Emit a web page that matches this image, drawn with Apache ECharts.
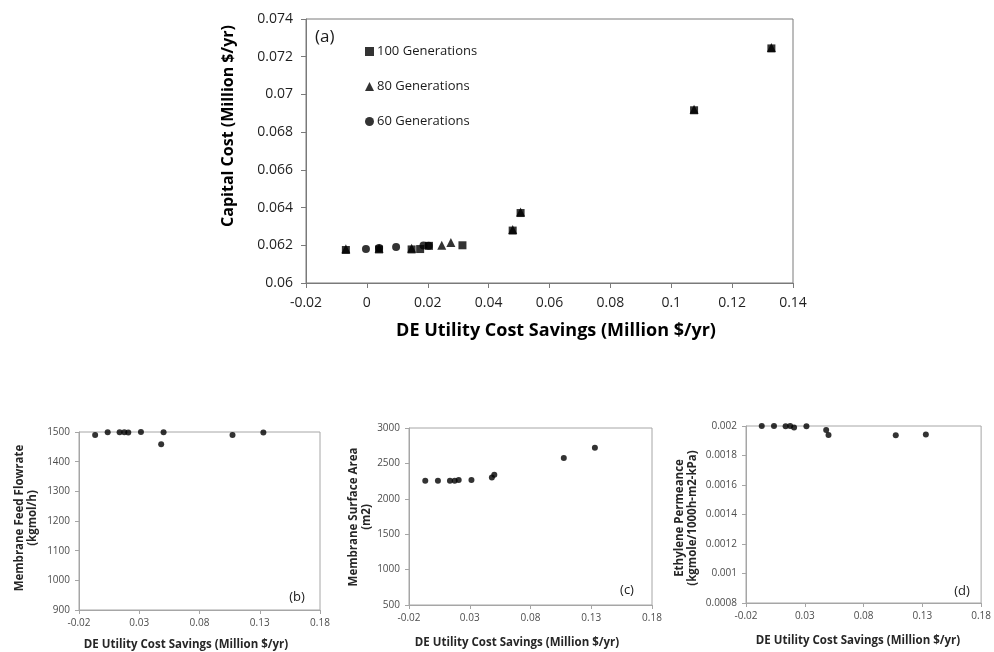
<!DOCTYPE html>
<html>
<head>
<meta charset="utf-8">
<script src="https://cdn.jsdelivr.net/npm/echarts@6/dist/echarts.min.js"></script>
<style>
html,body{margin:0;padding:0;background:#fff;}
#c{width:994px;height:652px;}
</style>
</head>
<body>
<div id="c"></div>
<script>
// ---- data ----
// Panel (a): Capital cost vs DE utility cost savings (Million $/yr)
var savings100 = [-0.0069, 0.004, 0.0147, 0.0175, 0.0204, 0.0314, 0.0479, 0.0505, 0.1075, 0.1329];
var capital100 = [0.06175, 0.06178, 0.06178, 0.0618, 0.06197, 0.062, 0.06278, 0.06371, 0.06916, 0.07244];
var savings80 = [-0.0069, 0.004, 0.0147, 0.0246, 0.0276, 0.0479, 0.0505, 0.1075, 0.1329];
var capital80 = [0.06182, 0.06184, 0.06184, 0.06200, 0.06215, 0.06284, 0.06376, 0.06921, 0.07249];
var savings60 = [-0.0003, 0.004, 0.0096, 0.0186, 0.0203];
var capital60 = [0.0618, 0.06186, 0.06191, 0.06199, 0.06197];
// Panels (b)-(d): decision variables of the 100-generation front
var savingsSmall = [-0.0066, 0.0038, 0.0137, 0.0176, 0.0209, 0.0314, 0.0482, 0.0502, 0.1074, 0.133];
var feedFlow = [1490, 1499, 1499, 1499, 1498, 1500, 1459, 1499, 1490, 1498];
var surfaceArea = [2255, 2255, 2255, 2255, 2264, 2264, 2302, 2340, 2575, 2722];
var permeance = [0.002, 0.002, 0.001998, 0.002, 0.00199, 0.001998, 0.001973, 0.001939, 0.001937, 0.001943];

// tick labels
var xTicksA = [-0.02, 0, 0.02, 0.04, 0.06, 0.08, 0.1, 0.12, 0.14];
var yTicksA = [0.06, 0.062, 0.064, 0.066, 0.068, 0.07, 0.072, 0.074];
var xTicksSmall = [-0.02, 0.03, 0.08, 0.13, 0.18];
var yTicksB = [900, 1000, 1100, 1200, 1300, 1400, 1500];
var yTicksC = [500, 1000, 1500, 2000, 2500, 3000];
var yTicksD = [0.0008, 0.001, 0.0012, 0.0014, 0.0016, 0.0018, 0.002];

var legendNames = ['100 Generations', '80 Generations', '60 Generations'];
var xTitle = 'DE Utility Cost Savings (Million $/yr)';

function pairs(xs, ys) { return xs.map(function (x, i) { return [x, ys[i]]; }); }

var FONT = '"Open Sans", sans-serif';

function valAxis(idx, ticks, opts) {
  var min = ticks[0], max = ticks[ticks.length - 1];
  return {
    type: 'value', gridIndex: idx, min: min, max: max,
    splitLine: { show: false },
    axisLine: { show: true, onZero: false, lineStyle: { color: opts.lineColor, width: 1 } },
    axisTick: { show: true, inside: false, length: opts.tickLen, customValues: ticks, lineStyle: { color: opts.lineColor } },
    axisLabel: { customValues: ticks, margin: opts.margin, color: opts.labelColor, fontSize: opts.fontSize, fontFamily: FONT,
      formatter: function (v) { return String(v); } }
  };
}

var mainOpt = { lineColor: '#7a7a7a', tickLen: 5, margin: 13, labelColor: '#1f1f1f', fontSize: 14 };
var smallOptX = { lineColor: '#a6a6a6', tickLen: 4, margin: 8, labelColor: '#4d4d4d', fontSize: 10 };
var smallOptY = { lineColor: '#a6a6a6', tickLen: 4, margin: 9, labelColor: '#4d4d4d', fontSize: 10 };

var chart = echarts.init(document.getElementById('c'), null, { renderer: 'canvas' });

var option = {
  animation: false,
  backgroundColor: '#ffffff',
  grid: [
    { left: 306, top: 19, width: 487, height: 264, show: true, borderColor: '#7a7a7a', borderWidth: 1, backgroundColor: 'transparent' },
    { left: 79, top: 432, width: 241, height: 178, show: true, borderColor: '#a6a6a6', borderWidth: 1, backgroundColor: 'transparent' },
    { left: 409, top: 428, width: 243, height: 177, show: true, borderColor: '#a6a6a6', borderWidth: 1, backgroundColor: 'transparent' },
    { left: 746, top: 426, width: 237, height: 177, show: true, borderColor: '#a6a6a6', borderWidth: 1, backgroundColor: 'transparent' }
  ],
  xAxis: [
    valAxis(0, xTicksA, mainOpt),
    valAxis(1, xTicksSmall, smallOptX),
    valAxis(2, xTicksSmall, smallOptX),
    valAxis(3, xTicksSmall, smallOptX)
  ],
  yAxis: [
    valAxis(0, yTicksA, mainOpt),
    valAxis(1, yTicksB, smallOptY),
    valAxis(2, yTicksC, smallOptY),
    valAxis(3, yTicksD, smallOptY)
  ],
  legend: {
    data: [
      { name: legendNames[0], icon: 'rect' },
      { name: legendNames[1], icon: 'triangle' },
      { name: legendNames[2], icon: 'circle' }
    ],
    orient: 'vertical', left: 360, top: 40,
    itemWidth: 9, itemHeight: 9, itemGap: 22,
    textStyle: { fontSize: 13, fontFamily: FONT, color: '#1a1a1a', padding: [0, 0, 0, -2] },
    selectedMode: false
  },
  series: [
    { name: legendNames[0], type: 'scatter', xAxisIndex: 0, yAxisIndex: 0, symbol: 'rect', symbolSize: 8, z: 4,
      itemStyle: { color: '#000' }, data: pairs(savings100, capital100) },
    { name: legendNames[1], type: 'scatter', xAxisIndex: 0, yAxisIndex: 0, symbol: 'triangle', symbolSize: 9, z: 3,
      itemStyle: { color: '#000' }, data: pairs(savings80, capital80) },
    { name: legendNames[2], type: 'scatter', xAxisIndex: 0, yAxisIndex: 0, symbol: 'circle', symbolSize: 8, z: 2,
      itemStyle: { color: '#000' }, data: pairs(savings60, capital60) },
    { name: 'feed', type: 'scatter', xAxisIndex: 1, yAxisIndex: 1, symbol: 'circle', symbolSize: 6,
      itemStyle: { color: '#000' }, data: pairs(savingsSmall, feedFlow) },
    { name: 'area', type: 'scatter', xAxisIndex: 2, yAxisIndex: 2, symbol: 'circle', symbolSize: 6,
      itemStyle: { color: '#000' }, data: pairs(savingsSmall, surfaceArea) },
    { name: 'perm', type: 'scatter', xAxisIndex: 3, yAxisIndex: 3, symbol: 'circle', symbolSize: 6,
      itemStyle: { color: '#000' }, data: pairs(savingsSmall, permeance) }
  ],
  graphic: [
    // panel (a)
    { type: 'text', left: 315, top: 29, style: { text: '(a)', fontSize: 17, fontFamily: FONT, fill: '#1a1a1a' } },
    { type: 'text', x: 228, y: 126, rotation: Math.PI / 2,
      style: { text: 'Capital Cost (Million $/yr)', fontSize: 16, fontWeight: 'bold', fontFamily: FONT, fill: '#000', align: 'center', verticalAlign: 'middle' } },
    { type: 'text', x: 556, y: 331,
      style: { text: xTitle, fontSize: 18, fontWeight: 'bold', fontFamily: FONT, fill: '#000', align: 'center', verticalAlign: 'middle' } },
    // panel (b)
    { type: 'text', x: 297, y: 597, style: { text: '(b)', fontSize: 13, fontFamily: FONT, fill: '#1a1a1a', align: 'center', verticalAlign: 'middle' } },
    { type: 'text', x: 26, y: 518, rotation: Math.PI / 2,
      style: { text: 'Membrane Feed Flowrate\n(kgmol/h)', fontSize: 11.5, lineHeight: 13, fontWeight: 'bold', fontFamily: FONT, fill: '#262626', align: 'center', verticalAlign: 'middle' } },
    { type: 'text', x: 186, y: 645,
      style: { text: xTitle, fontSize: 11.5, fontWeight: 'bold', fontFamily: FONT, fill: '#262626', align: 'center', verticalAlign: 'middle' } },
    // panel (c)
    { type: 'text', x: 627, y: 590, style: { text: '(c)', fontSize: 13, fontFamily: FONT, fill: '#1a1a1a', align: 'center', verticalAlign: 'middle' } },
    { type: 'text', x: 360, y: 517, rotation: Math.PI / 2,
      style: { text: 'Membrane Surface Area\n(m2)', fontSize: 11.5, lineHeight: 13, fontWeight: 'bold', fontFamily: FONT, fill: '#262626', align: 'center', verticalAlign: 'middle' } },
    { type: 'text', x: 517, y: 643,
      style: { text: xTitle, fontSize: 11.5, fontWeight: 'bold', fontFamily: FONT, fill: '#262626', align: 'center', verticalAlign: 'middle' } },
    // panel (d)
    { type: 'text', x: 962, y: 591, style: { text: '(d)', fontSize: 13, fontFamily: FONT, fill: '#1a1a1a', align: 'center', verticalAlign: 'middle' } },
    { type: 'text', x: 686, y: 518, rotation: Math.PI / 2,
      style: { text: 'Ethylene Permeance\n(kgmole/1000h-m2-kPa)', fontSize: 11.5, lineHeight: 13, fontWeight: 'bold', fontFamily: FONT, fill: '#262626', align: 'center', verticalAlign: 'middle' } },
    { type: 'text', x: 858, y: 641,
      style: { text: xTitle, fontSize: 11.5, fontWeight: 'bold', fontFamily: FONT, fill: '#262626', align: 'center', verticalAlign: 'middle' } }
  ]
};
chart.setOption(option);
</script>
</body>
</html>
